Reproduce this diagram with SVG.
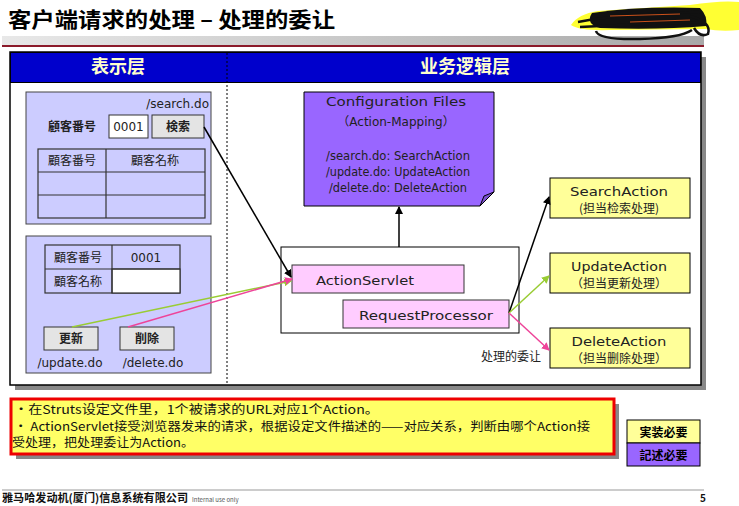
<svg xmlns="http://www.w3.org/2000/svg" width="739" height="506" viewBox="0 0 739 506">
<defs>
<linearGradient id="bar" x1="0" y1="0" x2="1" y2="0">
<stop offset="0" stop-color="#e8e8e8"/><stop offset="1" stop-color="#a8a8a8"/>
</linearGradient>
<marker id="ab" markerWidth="8" markerHeight="8" refX="7" refY="4" orient="auto" markerUnits="userSpaceOnUse"><path d="M0,0 L8,4 L0,8 z" fill="#000"/></marker>
<marker id="ag" markerWidth="8" markerHeight="8" refX="7" refY="4" orient="auto" markerUnits="userSpaceOnUse"><path d="M0,0 L8,4 L0,8 z" fill="#99cc33"/></marker>
<marker id="ap" markerWidth="8" markerHeight="8" refX="7" refY="4" orient="auto" markerUnits="userSpaceOnUse"><path d="M0,0 L8,4 L0,8 z" fill="#ee4499"/></marker>
</defs>
<style>
text{font-family:"Noto Sans CJK SC","Liberation Sans",sans-serif;}
.cj{font-family:"Noto Sans CJK JP","Noto Sans CJK SC",sans-serif;font-size:12px;fill:#222;}
.la{font-family:"DejaVu Sans","Noto Sans CJK JP",sans-serif;font-size:12px;fill:#222;}
.panel{fill:#ccccff;stroke:#444;stroke-width:1;}
.btn{fill:#e4e4e4;stroke:#333;stroke-width:1;}
.cell{fill:#ccccff;stroke:#333;stroke-width:1.2;}
.pink{fill:#ffccff;stroke:#333;stroke-width:1;}
.act{fill:#ffff99;stroke:#000;stroke-width:1;}
</style>
<rect width="739" height="506" fill="#fff"/>
<!-- title -->
<text x="8" y="27" font-size="21" font-weight="bold" fill="#000" textLength="327" lengthAdjust="spacingAndGlyphs">客户端请求的处理 – 处理的委让</text>
<rect x="2" y="36" width="702" height="10" fill="url(#bar)"/>
<rect x="2" y="45" width="702" height="2" fill="#8b1a2a"/>
<!-- scribble -->
<path d="M571,25 Q578,14 598,11 L690,5 Q722,0 739,2 L739,30 Q722,32 705,29 L610,30 Q580,31 571,25 Z" fill="#ffff33"/>
<path d="M592,13 Q640,6 700,8 Q708,16 706,26 Q660,30 600,28 Q585,24 592,13 Z" fill="#111"/>
<path d="M578,22 Q620,14 700,12 M580,27 Q640,24 705,22 M596,31 Q598,40 640,39 Q680,38 692,30 M690,16 Q712,22 708,34 Q700,38 694,28" fill="none" stroke="#111" stroke-width="2.5"/>
<path d="M610,16 L680,14 M630,22 L690,20" fill="none" stroke="#c8501a" stroke-width="1.2"/>
<!-- main frame -->
<rect x="15" y="57" width="691" height="333" fill="#888"/>
<rect x="10" y="52" width="691" height="333" fill="#fff" stroke="#000" stroke-width="1.5"/>
<rect x="10.5" y="52.5" width="690" height="30" fill="#0000cc" stroke="#000"/>
<line x1="227" y1="53" x2="227" y2="385" stroke="#000" stroke-dasharray="2,2"/>
<text x="118" y="73" font-size="18" font-weight="bold" fill="#ffffcc" text-anchor="middle">表示层</text>
<text x="465" y="73" font-size="18" font-weight="bold" fill="#ffffcc" text-anchor="middle">业务逻辑层</text>
<!-- search form -->
<g id="searchForm">
<rect class="panel" x="26" y="92" width="185" height="132"/>
<text class="la" x="209" y="108" text-anchor="end">/search.do</text>
<text x="48" y="131" font-size="12" font-weight="bold" font-family="Noto Sans CJK JP" fill="#222">顧客番号</text>
<rect x="109" y="115" width="39" height="23" fill="#fff" stroke="#333"/>
<text class="la" x="128.5" y="131" text-anchor="middle">0001</text>
<rect class="btn" x="152" y="115" width="52" height="23"/>
<text x="178" y="131" font-size="12" font-weight="bold" font-family="Noto Sans CJK JP" text-anchor="middle" fill="#222">検索</text>
<rect class="cell" x="38" y="149" width="167" height="69"/>
<line x1="38" y1="172" x2="205" y2="172" stroke="#333" stroke-width="1.2"/>
<line x1="38" y1="195" x2="205" y2="195" stroke="#333" stroke-width="1.2"/>
<line x1="106" y1="149" x2="106" y2="218" stroke="#333" stroke-width="1.2"/>
<text class="cj" x="72" y="165" text-anchor="middle">顧客番号</text>
<text class="cj" x="155" y="165" text-anchor="middle">顧客名称</text>
</g>
<!-- update form -->
<g id="updateForm">
<rect class="panel" x="26" y="236" width="185" height="137"/>
<rect class="cell" x="45" y="245" width="135" height="48"/>
<rect x="112" y="269" width="68" height="24" fill="#fff" stroke="#333" stroke-width="1.2"/>
<line x1="45" y1="269" x2="180" y2="269" stroke="#333" stroke-width="1.2"/>
<line x1="112" y1="245" x2="112" y2="293" stroke="#333" stroke-width="1.2"/>
<text class="cj" x="78" y="262" text-anchor="middle">顧客番号</text>
<text class="la" x="146" y="262" text-anchor="middle">0001</text>
<text class="cj" x="78" y="286" text-anchor="middle">顧客名称</text>
<rect class="btn" x="44" y="327" width="54" height="23"/>
<text x="71" y="343" font-size="12" font-weight="bold" font-family="Noto Sans CJK JP" text-anchor="middle" fill="#222">更新</text>
<rect class="btn" x="120" y="327" width="54" height="23"/>
<text x="147" y="343" font-size="12" font-weight="bold" font-family="Noto Sans CJK JP" text-anchor="middle" fill="#222">削除</text>
<text class="la" x="70" y="367" text-anchor="middle">/update.do</text>
<text class="la" x="153" y="367" text-anchor="middle">/delete.do</text>
</g>
<!-- config -->
<g id="config">
<path d="M304,92 H494 V192 L480,206 H304 Z" fill="#9966ff" stroke="#000"/>
<path d="M480,206 L484,196 L494,192 Z" fill="#7a52cc" stroke="#000"/>
<text class="la" x="396" y="106" text-anchor="middle" font-size="13" textLength="140" lengthAdjust="spacingAndGlyphs">Configuration  Files</text>
<text class="la" x="396" y="126" text-anchor="middle" font-size="13">（Action-Mapping）</text>
<text class="la" x="398" y="160" text-anchor="middle" textLength="144" lengthAdjust="spacingAndGlyphs">/search.do: SearchAction</text>
<text class="la" x="398" y="176" text-anchor="middle" textLength="144" lengthAdjust="spacingAndGlyphs">/update.do: UpdateAction</text>
<text class="la" x="398" y="192" text-anchor="middle" textLength="138" lengthAdjust="spacingAndGlyphs">/delete.do: DeleteAction</text>
</g>
<!-- servlet -->
<g id="servlet">
<rect x="281" y="247" width="238" height="86" fill="#fff" stroke="#000"/>
<rect class="pink" x="292" y="265" width="172" height="28"/>
<text class="la" x="365" y="285" text-anchor="middle" font-size="13" textLength="98" lengthAdjust="spacingAndGlyphs">ActionServlet</text>
<rect class="pink" x="343" y="300" width="166" height="28"/>
<text class="la" x="426" y="320" text-anchor="middle" font-size="13" textLength="134" lengthAdjust="spacingAndGlyphs">RequestProcessor</text>
</g>
<text class="cj" x="481" y="361" font-size="12">处理的委让</text>
<!-- actions -->
<g id="searchAction">
<rect class="act" x="550" y="178" width="140" height="40"/>
<text class="la" x="619" y="196" text-anchor="middle" font-size="13" textLength="98" lengthAdjust="spacingAndGlyphs">SearchAction</text>
<text class="cj" x="619" y="213" text-anchor="middle">(担当检索处理)</text>
</g>
<g id="updateAction">
<rect class="act" x="550" y="253" width="140" height="40"/>
<text class="la" x="619" y="271" text-anchor="middle" font-size="13" textLength="96" lengthAdjust="spacingAndGlyphs">UpdateAction</text>
<text class="cj" x="619" y="288" text-anchor="middle">（担当更新处理）</text>
</g>
<g id="deleteAction">
<rect class="act" x="550" y="328" width="140" height="40"/>
<text class="la" x="619" y="346" text-anchor="middle" font-size="13" textLength="95" lengthAdjust="spacingAndGlyphs">DeleteAction</text>
<text class="cj" x="619" y="363" text-anchor="middle">（担当删除处理）</text>
</g>
<!-- connectors -->
<g id="connectors" fill="none" stroke-width="1.5">
<line x1="204" y1="127" x2="291" y2="277" stroke="#000" marker-end="url(#ab)"/>
<line x1="72" y1="327" x2="291" y2="281" stroke="#99cc33" marker-end="url(#ag)"/>
<line x1="128" y1="327" x2="292" y2="279" stroke="#ee4499" marker-end="url(#ap)"/>
<line x1="399" y1="247" x2="399" y2="207" stroke="#000" marker-end="url(#ab)"/>
<line x1="509" y1="313" x2="549" y2="197" stroke="#000" marker-end="url(#ab)"/>
<line x1="509" y1="313" x2="549" y2="276" stroke="#99cc33" marker-end="url(#ag)"/>
<line x1="509" y1="313" x2="549" y2="350" stroke="#ee4499" marker-end="url(#ap)"/>
</g>
<!-- note -->
<g id="note">
<rect x="16" y="404" width="603" height="55" fill="#888"/>
<rect x="11" y="399" width="603" height="55" fill="#ffff66" stroke="#e00" stroke-width="3"/>
<text x="14" y="414" font-size="12" fill="#111" textLength="365" lengthAdjust="spacingAndGlyphs">•在Struts设定文件里，1个被请求的URL对应1个Action。</text>
<text x="14" y="431" font-size="12" fill="#111" textLength="576" lengthAdjust="spacingAndGlyphs">• ActionServlet接受浏览器发来的请求，根据设定文件描述的——对应关系，判断由哪个Action接</text>
<text x="12" y="447" font-size="12" fill="#111" textLength="182" lengthAdjust="spacingAndGlyphs">受处理，把处理委让为Action。</text>
</g>
<g id="legend">
<rect x="627" y="420" width="73" height="23" fill="#ffff99" stroke="#000"/>
<text x="663.5" y="437" font-size="12" font-weight="bold" text-anchor="middle" fill="#000">実装必要</text>
<rect x="627" y="443" width="73" height="23" fill="#9966ff" stroke="#000"/>
<text x="663.5" y="460" font-size="12" font-weight="bold" text-anchor="middle" fill="#000">記述必要</text>
</g>
<!-- footer -->
<rect x="2" y="489" width="702" height="2" fill="#ccc"/>
<text x="2" y="502" font-size="11" font-weight="bold" fill="#111" textLength="186" lengthAdjust="spacingAndGlyphs">雅马哈发动机(厦门)信息系统有限公司</text>
<text x="192" y="502" font-size="6" fill="#555" font-family="Liberation Sans,sans-serif">Internal use only</text>
<text x="700" y="502" font-size="10" font-weight="bold" fill="#111">5</text>
</svg>
